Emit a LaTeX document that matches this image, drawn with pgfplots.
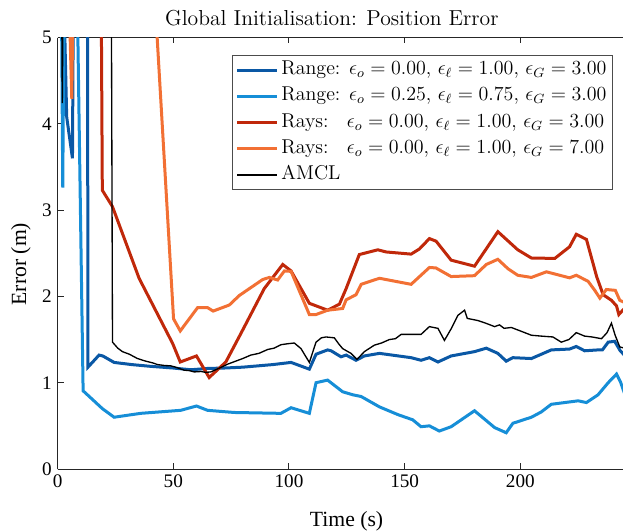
\documentclass[border=0pt]{standalone}
\usepackage{fontspec}
\usepackage{pgfplots}
\pgfplotsset{compat=1.18}
\newfontfamily\tnr{Liberation Serif}
\definecolor{rangeA}{RGB}{10,88,165}
\definecolor{rangeB}{RGB}{22,142,215}
\definecolor{raysA}{RGB}{192,40,10}
\definecolor{raysB}{RGB}{242,112,52}
\begin{document}
\begin{tikzpicture}
\begin{axis}[
  scale only axis,
  width=339.2pt, height=258.9pt,
  xmin=0, xmax=244.4,
  ymin=0, ymax=5,
  xtick={0,50,100,150,200},
  ytick={0,1,2,3,4,5},
  axis x line*=box, axis y line*=left,
  axis line style={black!85, line width=0.6pt},
  tick style={black!85, line width=0.6pt},
  tick align=inside,
  major tick length=3.5pt,
  /pgf/number format/assume math mode=true,
  tick label style={font=\tnr\fontsize{11.5}{13}\selectfont},
  xlabel={Time (s)},
  every axis x label/.style={at={(axis description cs:0.511,0)}, anchor=base, yshift=-34.2pt,
    font=\tnr\fontsize{13}{15}\selectfont},
  title={Global Initialisation: Position Error},
  every axis title/.style={at={(axis description cs:0.485,1)}, anchor=base, yshift=7pt,
    font=\fontsize{13}{15}\selectfont},
  legend cell align=left,
  legend style={at={(0.982,0.9594)}, anchor=north east, draw=black!70, line width=0.5pt,
    fill=white, font=\fontsize{12}{14}\selectfont, inner xsep=2pt, inner ysep=1pt,
    nodes={inner sep=1.6pt, text height=9pt, text depth=3.5pt}},
  legend image code/.code={\draw[#1] (0pt,0pt) -- (24pt,0pt);},
  clip=true,
]
% Range: eo=0.00, el=1.00, eG=3.00
\addplot[rangeA, line width=1.8pt] coordinates {
(0,5.6)(2.6,5.6)(3.9,4.08)(6.4,3.6)(6.8,5.6)(12.9,5.6)(13.1,1.18)(17.9,1.32)(19.5,1.31)
(24.4,1.235)(32,1.21)(40,1.19)(50,1.17)(57.6,1.15)(64.8,1.165)(72,1.17)(80,1.18)(93,1.21)
(100.9,1.235)(108.8,1.157)(111.7,1.33)(116.7,1.38)(118.2,1.37)(122.5,1.30)(124.7,1.32)
(129,1.26)(132.6,1.31)(139.1,1.34)(152.8,1.29)(157.1,1.26)(160.7,1.29)(164.4,1.24)
(170.1,1.31)(180.2,1.36)(185.3,1.40)(190.3,1.34)(193.9,1.25)(196.8,1.29)(204.8,1.28)
(209.1,1.33)(213.4,1.38)(221.3,1.39)(224.2,1.42)(227.8,1.37)(233.6,1.38)(235.5,1.38)
(238,1.47)(240.8,1.48)(243.2,1.37)(245,1.32)};
\addlegendentry{Range: $\epsilon_o = 0.00$, $\epsilon_\ell = 1.00$, $\epsilon_G = 3.00$}
% Range: eo=0.25, el=0.75, eG=3.00
\addplot[rangeB, line width=1.8pt] coordinates {
(1.6,5.6)(2.2,3.26)(2.8,5.6)(8.4,5.6)(11,0.906)(19.3,0.70)(24.4,0.60)(35.9,0.645)
(53.2,0.68)(60,0.73)(64.8,0.68)(76.3,0.655)(96.5,0.645)(100.9,0.71)(108.8,0.645)
(111.7,1.0)(116.7,1.03)(123.2,0.895)(127.6,0.86)(131.2,0.84)(139.1,0.72)(147.1,0.63)
(153.5,0.57)(157.1,0.49)(160.7,0.50)(165,0.44)(170.1,0.49)(180.2,0.675)(188.9,0.48)
(193.9,0.42)(196.8,0.53)(204.8,0.60)(209,0.66)(213.4,0.75)(225,0.79)(228.6,0.77)
(233.6,0.86)(238,1.0)(241.6,1.10)(243.3,1.01)(245,0.88)};
\addlegendentry{Range: $\epsilon_o = 0.25$, $\epsilon_\ell = 0.75$, $\epsilon_G = 3.00$}
% Rays: eo=0.00, el=1.00, eG=3.00
\addplot[raysA, line width=1.8pt] coordinates {
(18.8,5.6)(19.3,3.23)(23.7,3.04)(35.2,2.21)(49.7,1.455)(53,1.24)(60,1.31)(65.5,1.06)
(72.7,1.24)(79.2,1.57)(89.3,2.09)(97.3,2.37)(100.9,2.295)(108.8,1.92)(116.7,1.84)
(121.8,1.91)(124.7,2.09)(130.4,2.485)(138.4,2.54)(142,2.515)(152.8,2.49)(156.4,2.55)
(160.7,2.67)(163.6,2.64)(170.1,2.42)(180.2,2.35)(190.3,2.75)(198.9,2.54)(204.8,2.445)
(214.9,2.44)(221.3,2.575)(224.2,2.72)(228.6,2.66)(233,2.23)(235.8,2.02)(239.4,1.955)
(241.6,1.89)(242.6,1.79)(245,1.86)};
\addlegendentry{\rlap{Rays:}\phantom{Range:} $\epsilon_o = 0.00$, $\epsilon_\ell = 1.00$, $\epsilon_G = 3.00$}
% Rays: eo=0.00, el=1.00, eG=7.00
\addplot[raysB, line width=1.8pt] coordinates {
(4.8,5.6)(6.1,4.29)(6.7,5.6)(42.6,5.6)(42.9,5.05)(50.1,1.74)(53,1.60)(60.5,1.87)
(64.8,1.87)(67.2,1.83)(74.2,1.90)(78.5,2.01)(88.6,2.195)(91.5,2.22)(95.1,2.19)(98,2.295)
(100.9,2.29)(108.8,1.79)(111.7,1.79)(116.7,1.84)(123.2,1.86)(124.7,1.96)(129,2.02)
(131.2,2.14)(139.1,2.21)(152.8,2.14)(160.7,2.335)(163.5,2.33)(170.1,2.23)(180.2,2.24)
(185.3,2.37)(190.3,2.43)(194.7,2.32)(198.9,2.245)(204.8,2.22)(211.3,2.285)(221.3,2.215)
(224.2,2.245)(229.3,2.175)(232.2,2.07)(234.4,1.98)(237.2,2.08)(241.1,2.07)(243,1.955)
(245,1.93)};
\addlegendentry{\rlap{Rays:}\phantom{Range:} $\epsilon_o = 0.00$, $\epsilon_\ell = 1.00$, $\epsilon_G = 7.00$}
% AMCL
\addplot[black, line width=0.8pt] coordinates {
(1.7,5.6)(2.0,4.24)(2.4,5.6)(23.2,5.6)(23.7,1.47)(26,1.40)(28,1.36)(31,1.33)(34.5,1.28)
(38,1.25)(41,1.23)(43.2,1.21)(46,1.20)(48.9,1.195)(51,1.18)(54.7,1.145)(57,1.14)
(59,1.125)(62,1.13)(64,1.12)(66.2,1.125)(70,1.17)(73.5,1.215)(77,1.25)(80,1.28)
(83.5,1.32)(87,1.34)(90.8,1.385)(93.5,1.40)(96.5,1.44)(99,1.45)(102.3,1.46)(105.2,1.395)
(108.8,1.235)(111.7,1.47)(114,1.52)(116,1.53)(119.6,1.52)(121.5,1.45)(123.2,1.395)
(126.8,1.34)(129.4,1.27)(132.6,1.36)(136.9,1.435)(140,1.46)(143.4,1.50)(146,1.51)
(148.5,1.56)(152,1.56)(157.1,1.56)(160.7,1.65)(164.4,1.63)(167.2,1.49)(170,1.62)
(173,1.78)(175.9,1.84)(177.1,1.745)(181.7,1.72)(185,1.69)(188.9,1.65)(191,1.67)
(193,1.63)(196.1,1.64)(200,1.60)(204.8,1.55)(209,1.54)(214.1,1.53)(217.7,1.47)
(221,1.50)(224.2,1.58)(227.8,1.54)(231,1.53)(235.1,1.51)(237.5,1.58)(239.4,1.69)
(241,1.55)(243,1.415)(245,1.40)};
\addlegendentry{AMCL}
\coordinate (sw) at (rel axis cs:0,0);
\coordinate (ne) at (rel axis cs:1,1);
\coordinate (yl) at (rel axis cs:0,0.475);
\end{axis}
\node[rotate=90, anchor=base, font=\tnr\fontsize{13}{15}\selectfont] at ([xshift=-19pt]yl) {Error (m)};
\pgfresetboundingbox
\path[use as bounding box] ([shift={(-34.6pt,-37.2pt)}]sw) rectangle ([shift={(0pt,22.5pt)}]ne);
\end{tikzpicture}
\end{document}
